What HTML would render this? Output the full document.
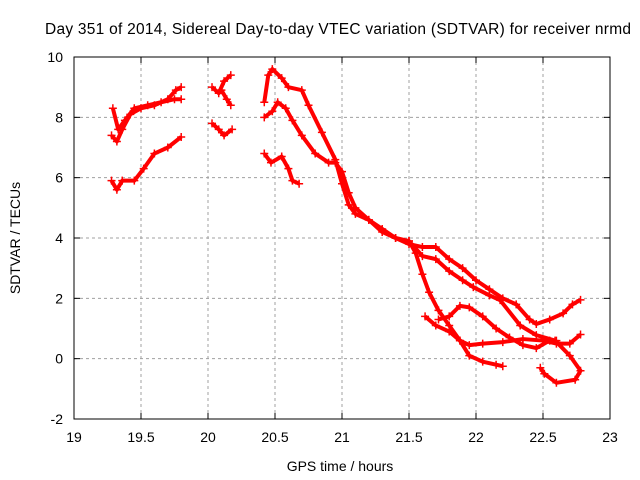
<!DOCTYPE html>
<html><head><meta charset="utf-8"><style>
body{margin:0;background:#fff}
svg{display:block;font-family:"Liberation Sans",sans-serif}
</style></head><body>
<svg id="chart" width="640" height="480">
<text x="338" y="34" font-size="15.5" text-anchor="middle" textLength="586">Day 351 of 2014, Sidereal Day-to-day VTEC variation (SDTVAR) for receiver nrmd</text>
<text x="340" y="471" font-size="14" text-anchor="middle">GPS time / hours</text>
<text transform="translate(20,238) rotate(-90)" font-size="14" text-anchor="middle">SDTVAR / TECUs</text>
<g id="grid"></g><g id="axes"></g><g id="marks"></g>
</svg>
<script>
const xTicks=[19,19.5,20,20.5,21,21.5,22,22.5,23];
const yTicks=[-2,0,2,4,6,8,10];
const arcA=[[19.28,7.4],[19.32,7.2],[19.36,7.6],[19.42,8.1],[19.5,8.3],[19.6,8.4],[19.7,8.6],[19.76,8.9],[19.8,9.0]];
const arcA2=[[19.29,8.3],[19.33,7.6],[19.38,7.9],[19.45,8.3],[19.55,8.4],[19.65,8.5],[19.75,8.6],[19.8,8.6]];
const arcB=[[19.28,5.9],[19.32,5.6],[19.36,5.9],[19.45,5.9],[19.52,6.3],[19.6,6.8],[19.7,7.0],[19.8,7.35]];
const arcC=[[20.03,9.0],[20.08,8.8],[20.12,9.2],[20.17,9.4]];
const arcC2=[[20.1,8.9],[20.14,8.6],[20.17,8.4]];
const arcC3=[[20.03,7.8],[20.08,7.6],[20.12,7.4],[20.18,7.6]];
const arcD=[[20.42,6.8],[20.47,6.5],[20.55,6.7],[20.6,6.3],[20.63,5.9],[20.68,5.8]];
const arcE=[[20.42,8.5],[20.45,9.4],[20.48,9.6],[20.55,9.3],[20.6,9.0],[20.7,8.9],[20.75,8.4],[20.85,7.5],[20.95,6.6],[21.0,5.8],[21.05,5.1],[21.1,4.8],[21.2,4.6],[21.3,4.2],[21.4,4.0],[21.5,3.8],[21.6,3.7],[21.7,3.7],[21.8,3.3],[21.9,3.0],[22.0,2.6],[22.1,2.3],[22.2,2.0],[22.3,1.8],[22.4,1.3],[22.45,1.15],[22.55,1.3],[22.65,1.5],[22.72,1.8],[22.78,1.95]];
const arcF=[[20.42,8.0],[20.48,8.2],[20.52,8.5],[20.58,8.3],[20.63,7.9],[20.7,7.4],[20.8,6.8],[20.9,6.5],[20.95,6.5],[21.0,6.2],[21.05,5.5],[21.1,5.0],[21.2,4.6],[21.3,4.3],[21.4,4.0],[21.5,3.9],[21.6,3.4],[21.7,3.3],[21.8,2.9],[21.9,2.6],[21.98,2.37],[22.1,2.1],[22.18,1.94],[22.33,1.1],[22.45,0.78],[22.59,0.6],[22.7,0.1],[22.78,-0.4],[22.74,-0.7],[22.6,-0.8],[22.51,-0.5],[22.48,-0.3]];
const arcG=[[21.5,3.9],[21.55,3.5],[21.6,2.8],[21.65,2.2],[21.72,1.6],[21.8,1.1],[21.88,0.6],[21.95,0.45],[22.05,0.5],[22.2,0.55],[22.35,0.65],[22.5,0.6],[22.6,0.5],[22.7,0.5],[22.78,0.8]];
const arcH=[[21.62,1.4],[21.7,1.1],[21.8,0.9],[21.88,0.6],[21.95,0.1],[22.05,-0.1],[22.15,-0.2],[22.2,-0.25]];
const arcI=[[21.72,1.3],[21.8,1.4],[21.88,1.75],[21.95,1.7],[22.05,1.4],[22.15,1.0],[22.25,0.7],[22.35,0.45],[22.45,0.35],[22.55,0.6],[22.6,0.6]];
const series=[arcA,arcA2,arcB,arcC,arcC2,arcC3,arcD,arcE,arcF,arcG,arcH,arcI];
const NS="http://www.w3.org/2000/svg";
const X0=74,X1=610,Y0=419,Y1=57;
function xs(t){return X0+(t-19)/(23-19)*(X1-X0);}
function ys(v){return Y0-(v+2)/12*(Y0-Y1);}
function mk(tag,at,parent){const e=document.createElementNS(NS,tag);for(const k in at)e.setAttribute(k,at[k]);parent.appendChild(e);return e;}
const grid=document.getElementById('grid'),axes=document.getElementById('axes'),marks=document.getElementById('marks');
xTicks.forEach(t=>{const x=xs(t);
 if(t>19&&t<23){const l=mk('line',{x1:x,x2:x,y1:Y0,y2:Y1,stroke:'#a0a0a0','stroke-dasharray':'3,3'},grid);
 
 }
 mk('line',{x1:x,x2:x,y1:Y0,y2:Y0-6,stroke:'#000'},axes);mk('line',{x1:x,x2:x,y1:Y1,y2:Y1+6,stroke:'#000'},axes);
 const tx=mk('text',{x:x,y:Y0+23,'font-size':14,'text-anchor':'middle'},axes);tx.textContent=t;
 
 });
yTicks.forEach(v=>{const y=ys(v);
 if(v>-2&&v<10){const l=mk('line',{x1:X0,x2:X1,y1:y,y2:y,stroke:'#a0a0a0','stroke-dasharray':'3,3'},grid);
 
 }
 mk('line',{x1:X0,x2:X0+6,y1:y,y2:y,stroke:'#000'},axes);mk('line',{x1:X1,x2:X1-6,y1:y,y2:y,stroke:'#000'},axes);
 const tx=mk('text',{x:X0-11,y:y+5,'font-size':14,'text-anchor':'end'},axes);tx.textContent=v;
 
 });
const fr=mk('rect',{x:X0,y:Y1,width:X1-X0,height:Y0-Y1,fill:'none',stroke:'#000'},axes);


series.forEach((s,i)=>{
 const pl=mk('polyline',{points:s.map(p=>xs(p[0])+','+ys(p[1])).join(' '),fill:'none',stroke:'#f00','stroke-width':4,'stroke-linejoin':'round'},marks);
 
 
 s.forEach(p=>{const x=xs(p[0]),y=ys(p[1]);
  const m=mk('path',{d:`M${x-4},${y}H${x+4}M${x},${y-4}V${y+4}`,stroke:'#f00','stroke-width':1.5},marks);
  
  });
});
</script>
</body></html>
